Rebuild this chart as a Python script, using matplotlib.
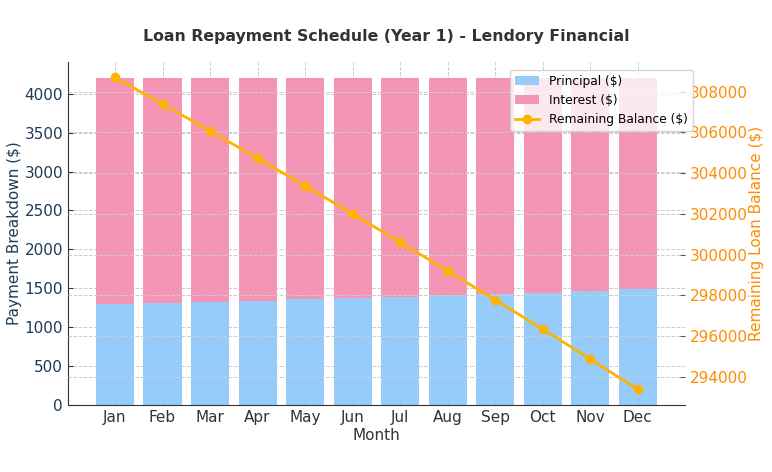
import matplotlib
matplotlib.use("Agg")
import matplotlib.pyplot as plt
import numpy as np

months = ["Jan", "Feb", "Mar", "Apr", "May", "Jun", "Jul", "Aug", "Sep", "Oct", "Nov", "Dec"]
principal = [1300, 1309, 1322, 1339, 1356, 1377, 1390, 1408, 1428, 1441, 1467, 1489]
interest = [2900, 2891, 2878, 2861, 2844, 2823, 2810, 2792, 2772, 2759, 2733, 2711]
balance = [308700, 307390, 306070, 304730, 303380, 302000, 300610, 299200, 297780, 296340, 294870, 293380]

navy = "#1f3b57"
orange = "#ff8c00"
dark = "#333333"

fig = plt.figure(figsize=(7.72, 4.72), dpi=100)
ax1 = fig.add_axes([0.088, 0.142, 0.799, 0.727])
x = np.arange(len(months))

b1 = ax1.bar(x, principal, color="#90caf9", alpha=0.95, width=0.8, label="Principal ($)")
b2 = ax1.bar(x, interest, bottom=principal, color="#f48fb1", alpha=0.95, width=0.8, label="Interest ($)")
ax1.set_axisbelow(True)
ax1.grid(True, linestyle="--", color="#cccccc", linewidth=0.7)
ax1.set_xticks(x)
ax1.set_xticklabels(months)
ax1.set_xlabel("Month", fontsize=11, color=dark, labelpad=2)
ax1.set_ylabel("Payment Breakdown ($)", fontsize=11, color=navy, labelpad=1.5)
ax1.tick_params(axis="y", colors=navy, labelsize=11, direction="in")
ax1.tick_params(axis="x", colors=dark, labelsize=11, direction="in")
for s in ["top", "right"]:
    ax1.spines[s].set_visible(False)
ax1.spines["left"].set_color(dark)
ax1.spines["bottom"].set_color(dark)

ax2 = ax1.twinx()
l1, = ax2.plot(x, balance, color="#ffb300", marker="o", markersize=6, linewidth=2, label="Remaining Balance ($)")
ax2.grid(True, linestyle="--", color="#cccccc", linewidth=0.7)
ax2.set_ylabel("Remaining Loan Balance ($)", fontsize=11, color=orange, labelpad=1)
ax2.tick_params(axis="y", colors="#555555", labelsize=11, direction="in")
for lab in ax2.get_yticklabels():
    lab.set_color(orange)
for s in ["top", "right", "left", "bottom"]:
    ax2.spines[s].set_visible(False)

ax2.legend([b1, b2, l1], ["Principal ($)", "Interest ($)", "Remaining Balance ($)"],
           loc="upper right", bbox_to_anchor=(1.013, 0.977), borderaxespad=0,
           fontsize=8.8, framealpha=0.8)

fig.text(0.5, 0.922, "Loan Repayment Schedule (Year 1) - Lendory Financial",
         ha="center", va="center", fontsize=11.3, fontweight="bold", color=dark)

fig.savefig("out.png", dpi=100)
